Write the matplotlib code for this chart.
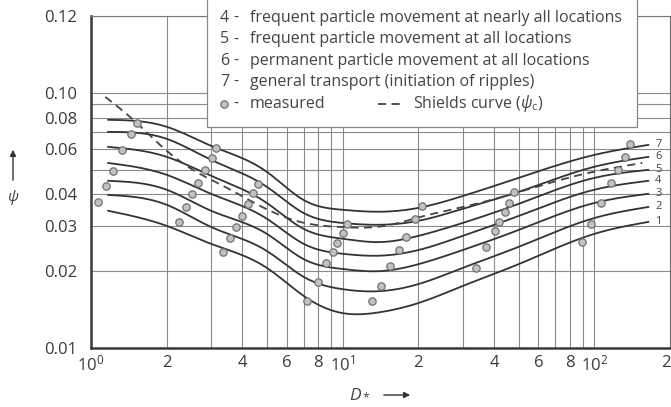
import numpy as np
import matplotlib
matplotlib.use("Agg")
import matplotlib.pyplot as plt
import matplotlib.transforms as mtransforms
from matplotlib.patches import Rectangle, FancyArrowPatch
from matplotlib.lines import Line2D

plt.rcParams['font.family'] = ['Open Sans', 'DejaVu Sans']
plt.rcParams['mathtext.fontset'] = 'custom'
plt.rcParams['mathtext.rm'] = 'Open Sans'
plt.rcParams['mathtext.it'] = 'Open Sans:italic'

# ---------------- data ----------------
d_grid = [1.17, 2, 3, 5, 7, 10, 14, 20, 30, 50, 100, 164]
curve_7 = [0.0784, 0.0736, 0.0620, 0.0490, 0.0380, 0.0348, 0.0342, 0.0354, 0.0394, 0.0464, 0.0571, 0.0625]
curve_6 = [0.0703, 0.0660, 0.0546, 0.0428, 0.0338, 0.0309, 0.0304, 0.0315, 0.0351, 0.0409, 0.0513, 0.0561]
curve_5 = [0.0614, 0.0561, 0.0473, 0.0370, 0.0293, 0.0268, 0.0260, 0.0275, 0.0309, 0.0367, 0.0464, 0.0499]
curve_4 = [0.0531, 0.0477, 0.0402, 0.0321, 0.0256, 0.0234, 0.0230, 0.0242, 0.0275, 0.0329, 0.0417, 0.0452]
curve_3 = [0.0452, 0.0417, 0.0345, 0.0280, 0.0223, 0.0204, 0.0200, 0.0213, 0.0242, 0.0290, 0.0370, 0.0402]
curve_2 = [0.0398, 0.0364, 0.0298, 0.0240, 0.0190, 0.0170, 0.0167, 0.0178, 0.0206, 0.0249, 0.0323, 0.0357]
curve_1 = [0.0345, 0.0301, 0.0256, 0.0206, 0.0160, 0.0137, 0.0138, 0.0150, 0.0175, 0.0213, 0.0280, 0.0312]
curve_labels = ["1", "2", "3", "4", "5", "6", "7"]

shields_d = [1.14, 1.52, 1.88, 2.54, 3.41, 4.61, 6.77, 9.77, 14.7, 20.3, 30.1, 47.5, 87.8, 155]
shields_psi = [0.0964, 0.0762, 0.0625, 0.0499, 0.0428, 0.0364, 0.0312, 0.0298, 0.0301, 0.0326,
               0.0357, 0.0402, 0.0477, 0.0531]

meas_d = [1.066, 1.147, 1.223, 1.328, 1.442, 1.523,
          2.237, 2.386, 2.520, 2.663, 2.839, 3.027, 3.140,
          3.346, 3.568, 3.770, 3.982, 4.207, 4.405, 4.611,
          7.221, 7.985, 8.590, 9.158, 9.500, 10.04, 10.41,
          13.09, 14.21, 15.43, 16.76, 17.87, 19.40, 20.69,
          33.90, 37.15, 40.35, 41.85, 44.21, 45.86, 48.01,
          89.43, 97.12, 106.4, 116.7, 124.3, 132.6, 138.8]
meas_psi = [0.0374, 0.0432, 0.0494, 0.0598, 0.0691, 0.0763,
            0.0312, 0.0357, 0.0402, 0.0444, 0.0499, 0.0556, 0.0609,
            0.0238, 0.0270, 0.0298, 0.0329, 0.0367, 0.0405, 0.0440,
            0.0153, 0.0182, 0.0215, 0.0238, 0.0258, 0.0283, 0.0306,
            0.0153, 0.0175, 0.0210, 0.0242, 0.0272, 0.0321, 0.0361,
            0.0206, 0.0249, 0.0288, 0.0312, 0.0342, 0.0370, 0.0409,
            0.0260, 0.0306, 0.0370, 0.0444, 0.0499, 0.0561, 0.0631]

x_ticks = [1, 2, 3, 4, 5, 6, 7, 8, 9, 10, 20, 30, 40, 50, 60, 70, 80, 90, 100, 200]
x_ticklabels = [r"$10^0$", "2", "", "4", "", "6", "", "8", "", r"$10^1$",
                "2", "", "4", "", "6", "", "8", "", r"$10^2$", "2"]
y_ticks = [0.01, 0.02, 0.03, 0.04, 0.05, 0.06, 0.07, 0.08, 0.09, 0.10, 0.2]
y_ticklabels = ["0.01", "0.02", "0.03", "0.04", "", "0.06", "", "0.08", "", "0.10", "0.12"]

legend_nums = ["4", "5", "6", "7"]
legend_texts = ["frequent particle movement at nearly all locations",
                "frequent particle movement at all locations",
                "permanent particle movement at all locations",
                "general transport (initiation of ripples)"]


def smooth(x, y, n=300):
    lx = np.log10(np.asarray(x, float))
    ly = np.log10(np.asarray(y, float))
    m = len(lx)
    h = np.diff(lx)
    A = np.zeros((m, m))
    r = np.zeros(m)
    A[0, 0] = 1
    A[-1, -1] = 1
    for i in range(1, m - 1):
        A[i, i - 1] = h[i - 1]
        A[i, i] = 2 * (h[i - 1] + h[i])
        A[i, i + 1] = h[i]
        r[i] = 3 * ((ly[i + 1] - ly[i]) / h[i] - (ly[i] - ly[i - 1]) / h[i - 1])
    c = np.linalg.solve(A, r)
    b = (ly[1:] - ly[:-1]) / h - h * (2 * c[:-1] + c[1:]) / 3
    d = (c[1:] - c[:-1]) / (3 * h)
    xs = np.linspace(lx[0], lx[-1], n)
    idx = np.clip(np.searchsorted(lx, xs) - 1, 0, m - 2)
    t = xs - lx[idx]
    ys = ly[idx] + b[idx] * t + c[idx] * t ** 2 + d[idx] * t ** 3
    return 10 ** xs, 10 ** ys


W, H = 671, 407
TXT = '#444444'
fig = plt.figure(figsize=(W / 100, H / 100), dpi=100)
fig.patch.set_facecolor('white')
ax = fig.add_axes([91 / W, 1 - 348 / H, (670 - 91) / W, (348 - 16) / H])
ax.set_xscale('log')
ax.set_yscale('log')
ax.set_xlim(1, 200)
ax.set_ylim(0.01, 0.2)

ax.set_xticks(x_ticks)
ax.set_xticklabels(x_ticklabels)
ax.set_yticks(y_ticks)
ax.set_yticklabels(y_ticklabels)
ax.minorticks_off()
ax.tick_params(axis='both', length=0, labelsize=12, colors='#3a3a3a')
ax.tick_params(axis='x', pad=5)
ax.tick_params(axis='y', pad=10)
ax.grid(True, color='#8a8a8a', lw=0.8)
ax.set_axisbelow(True)

# keep the last x label ("2" at 200) inside the canvas
last = ax.get_xticklabels()[-1]
last.set_transform(last.get_transform() +
                   mtransforms.ScaledTranslation(-4 / 100, 0, fig.dpi_scale_trans))

for s in ['left', 'bottom']:
    ax.spines[s].set_linewidth(1.8)
    ax.spines[s].set_color('#3a3a3a')
for s in ['top', 'right']:
    ax.spines[s].set_linewidth(0.8)
    ax.spines[s].set_color('#777777')

curves = [curve_1, curve_2, curve_3, curve_4, curve_5, curve_6, curve_7]
for lab, cv in zip(curve_labels, curves):
    xs, ys = smooth(d_grid, cv)
    ax.plot(xs, ys, color='#333333', lw=1.3, zorder=3)
    ax.text(180, cv[-1], lab, fontsize=8, color=TXT, va='center', ha='center', clip_on=False)

xs, ys = smooth(shields_d, shields_psi)
ax.plot(xs, ys, color='#444444', lw=1.3, dashes=(4.5, 3), zorder=3)

ax.plot(meas_d, meas_psi, ls='none', marker='o', ms=5.3, mfc='#c2c2c2', mec='#707070',
        mew=0.9, zorder=4)

# legend box (top part cut off by the figure edge)
rect = Rectangle((207 / W, 1 - 127 / H), (637 - 207) / W, 127 / H + 0.05,
                 transform=fig.transFigure, fc='white', ec='#888888', lw=0.9, zorder=5)
fig.add_artist(rect)
LFS = 11.5
for i, (num, t) in enumerate(zip(legend_nums, legend_texts)):
    yy = 1 - (18 + 21.4 * i) / H
    fig.text(220 / W, yy, num, fontsize=LFS, color=TXT, va='center', ha='left', zorder=6)
    fig.text(233 / W, yy, "-", fontsize=LFS, color=TXT, va='center', ha='left', zorder=6)
    fig.text(250 / W, yy, t, fontsize=LFS, color=TXT, va='center', ha='left', zorder=6)
ym = 1 - 104 / H
fig.add_artist(Line2D([224 / W], [ym], marker='o', ms=5.3, mfc='#c2c2c2',
                      mec='#707070', mew=0.9, ls='none', transform=fig.transFigure, zorder=7))
fig.text(233 / W, ym, "-", fontsize=LFS, color=TXT, va='center', ha='left', zorder=6)
fig.text(250 / W, ym, "measured", fontsize=LFS, color=TXT, va='center', ha='left', zorder=6)
fig.add_artist(Line2D([378 / W, 404 / W], [ym, ym], color='#444444', lw=1.3,
                      dashes=(4.5, 3), transform=fig.transFigure, zorder=7))
fig.text(413 / W, ym, r"Shields curve ($\psi_{\rm c}$)", fontsize=LFS, color=TXT,
         va='center', ha='left', zorder=6)

# axis labels with arrows
fig.text(13 / W, 1 - 197 / H, r"$\psi$", fontsize=11, color=TXT, ha='center', va='center')
fig.add_artist(FancyArrowPatch((13 / W, 1 - 183 / H), (13 / W, 1 - 147 / H),
               transform=fig.transFigure, arrowstyle='-|>', mutation_scale=9, color='#333333', lw=1))
fig.text(360 / W, 1 - 394 / H, r"$D_*$", fontsize=12.5, color=TXT, ha='center', va='center')
fig.add_artist(FancyArrowPatch((381 / W, 1 - 395 / H), (413 / W, 1 - 395 / H),
               transform=fig.transFigure, arrowstyle='-|>', mutation_scale=9, color='#333333', lw=1))

fig.savefig('out.png', dpi=100, facecolor='white')
